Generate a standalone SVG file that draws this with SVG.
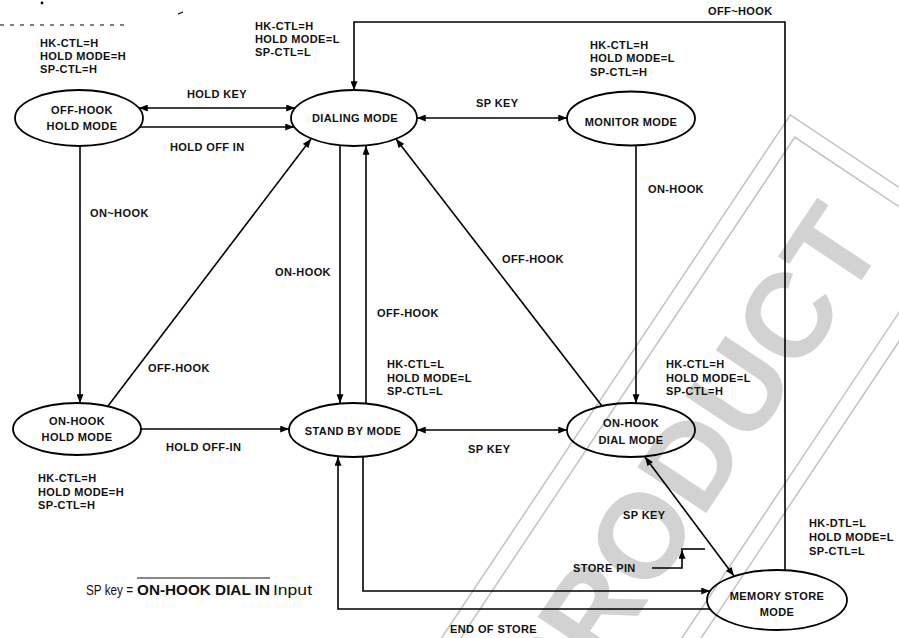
<svg xmlns="http://www.w3.org/2000/svg" width="899" height="638" viewBox="0 0 899 638">
<style>
.n ellipse{fill:none;stroke:#000;stroke-width:1.8}
.t{font-family:"Liberation Sans",Arial,sans-serif;font-size:11px;font-weight:bold;fill:#111;letter-spacing:0.4px}
.m{text-anchor:middle}
.c path{fill:none;stroke:#000;stroke-width:1.6}
.wm{stroke:#c2c2c2;stroke-width:1.5;fill:none}
</style>
<defs>
<marker id="ah" viewBox="0 0 10 8" refX="10" refY="4" markerWidth="10" markerHeight="7" markerUnits="userSpaceOnUse" orient="auto-start-reverse"><path d="M0,0 L10,4 L0,8 z" fill="#000"/></marker>
</defs>
<rect width="899" height="638" fill="#fff"/>
<g id="watermark" transform="translate(590 610) rotate(-56.3)">
<text x="-123" y="43" font-family="Liberation Sans,Arial,sans-serif" font-size="120" font-weight="bold" fill="#d2d2d2">PRODUCT</text>
<rect class="wm" x="-700" y="-108" width="1223" height="216"/>
<rect class="wm" x="-700" y="-92" width="1207" height="184"/>
</g>
<g id="noise" fill="none" stroke="#000" stroke-width="1.2">
<path d="M0 25 H125" stroke-dasharray="4 6"/>
<circle cx="42" cy="3" r="0.8"/>
<path d="M178 14 L183 12"/>
</g>
<g id="connectors" class="c">
<path d="M139 108 H295" marker-start="url(#ah)" marker-end="url(#ah)"/>
<path d="M140 127 H294" marker-end="url(#ah)"/>
<path d="M417 118 H567" marker-start="url(#ah)" marker-end="url(#ah)"/>
<path d="M785 571 V22 H354 V90" marker-end="url(#ah)"/>
<path d="M80 147 V403" marker-end="url(#ah)"/>
<path d="M108 406 L311 139" marker-end="url(#ah)"/>
<path d="M340 145 V403" marker-end="url(#ah)"/>
<path d="M366 404 V146" marker-end="url(#ah)"/>
<path d="M602 406 L396 139" marker-end="url(#ah)"/>
<path d="M636 145 V403" marker-end="url(#ah)"/>
<path d="M141 429 H289" marker-end="url(#ah)"/>
<path d="M417 430 H567" marker-start="url(#ah)" marker-end="url(#ah)"/>
<path d="M645 457 L734 576" marker-start="url(#ah)" marker-end="url(#ah)"/>
<path d="M363 457 V591 H710" marker-end="url(#ah)"/>
<path d="M710 609 H338 V457" marker-end="url(#ah)"/>
<path d="M652 568 H682 V550" marker-end="url(#ah)"/>
<path d="M681 549 H705"/>
</g>
<g id="edge-labels" class="t">
<text x="187" y="98">HOLD KEY</text>
<text x="170" y="151">HOLD OFF IN</text>
<text x="476" y="107">SP KEY</text>
<text x="708" y="15">OFF~HOOK</text>
<text x="90" y="217">ON~HOOK</text>
<text x="148" y="372">OFF-HOOK</text>
<text x="275" y="276">ON-HOOK</text>
<text x="377" y="317">OFF-HOOK</text>
<text x="502" y="263">OFF-HOOK</text>
<text x="648" y="193">ON-HOOK</text>
<text x="166" y="451">HOLD OFF-IN</text>
<text x="468" y="453">SP KEY</text>
<text x="623" y="519">SP KEY</text>
<text x="573" y="572">STORE PIN</text>
<text x="450" y="633">END OF STORE</text>
</g>
<g id="state-labels" class="t">
<text x="40" y="47">HK-CTL=H</text><text x="40" y="60">HOLD MODE=H</text><text x="40" y="73">SP-CTL=H</text>
<text x="255" y="30">HK-CTL=H</text><text x="255" y="43">HOLD MODE=L</text><text x="255" y="56">SP-CTL=L</text>
<text x="590" y="49">HK-CTL=H</text><text x="590" y="62">HOLD MODE=L</text><text x="590" y="76">SP-CTL=H</text>
<text x="38" y="482">HK-CTL=H</text><text x="38" y="496">HOLD MODE=H</text><text x="38" y="509">SP-CTL=H</text>
<text x="387" y="368">HK-CTL=L</text><text x="387" y="382">HOLD MODE=L</text><text x="387" y="395">SP-CTL=L</text>
<text x="666" y="368">HK-CTL=H</text><text x="666" y="382">HOLD MODE=L</text><text x="666" y="395">SP-CTL=H</text>
<text x="809" y="527">HK-DTL=L</text><text x="809" y="541">HOLD MODE=L</text><text x="809" y="555">SP-CTL=L</text>
</g>
<g id="n-offhook-hold" class="n">
<ellipse cx="79" cy="118" rx="64" ry="28"/>
<text class="t m" x="82" y="114">OFF-HOOK</text><text class="t m" x="82" y="130">HOLD MODE</text>
</g>
<g id="n-dialing" class="n">
<ellipse cx="354" cy="118" rx="63" ry="28"/>
<text class="t m" x="355" y="122">DIALING MODE</text>
</g>
<g id="n-monitor" class="n">
<ellipse cx="631" cy="118.5" rx="64" ry="27"/>
<text class="t m" x="631" y="126">MONITOR MODE</text>
</g>
<g id="n-onhook-hold" class="n">
<ellipse cx="77" cy="429" rx="64" ry="26"/>
<text class="t m" x="77" y="425">ON-HOOK</text><text class="t m" x="77" y="441">HOLD MODE</text>
</g>
<g id="n-standby" class="n">
<ellipse cx="353" cy="430" rx="64" ry="27"/>
<text class="t m" x="353" y="435">STAND BY MODE</text>
</g>
<g id="n-onhook-dial" class="n">
<ellipse cx="631" cy="430" rx="64" ry="27"/>
<text class="t m" x="631" y="427">ON-HOOK</text><text class="t m" x="631" y="444">DIAL MODE</text>
</g>
<g id="n-memory" class="n">
<ellipse cx="777" cy="600" rx="70" ry="30"/>
<text class="t m" x="777" y="600">MEMORY STORE</text><text class="t m" x="777" y="616">MODE</text>
</g>
<g id="note" font-family="Liberation Sans,Arial,sans-serif" font-size="14" fill="#111">
<text x="86" y="595" textLength="47" lengthAdjust="spacingAndGlyphs">SP key =</text>
<text x="137" y="595" font-weight="bold" textLength="133" lengthAdjust="spacingAndGlyphs">ON-HOOK DIAL IN</text>
<text x="273" y="595" textLength="39" lengthAdjust="spacingAndGlyphs">Input</text>
<path d="M137 578 H270" stroke="#111" stroke-width="1.2"/>
</g>
</svg>
